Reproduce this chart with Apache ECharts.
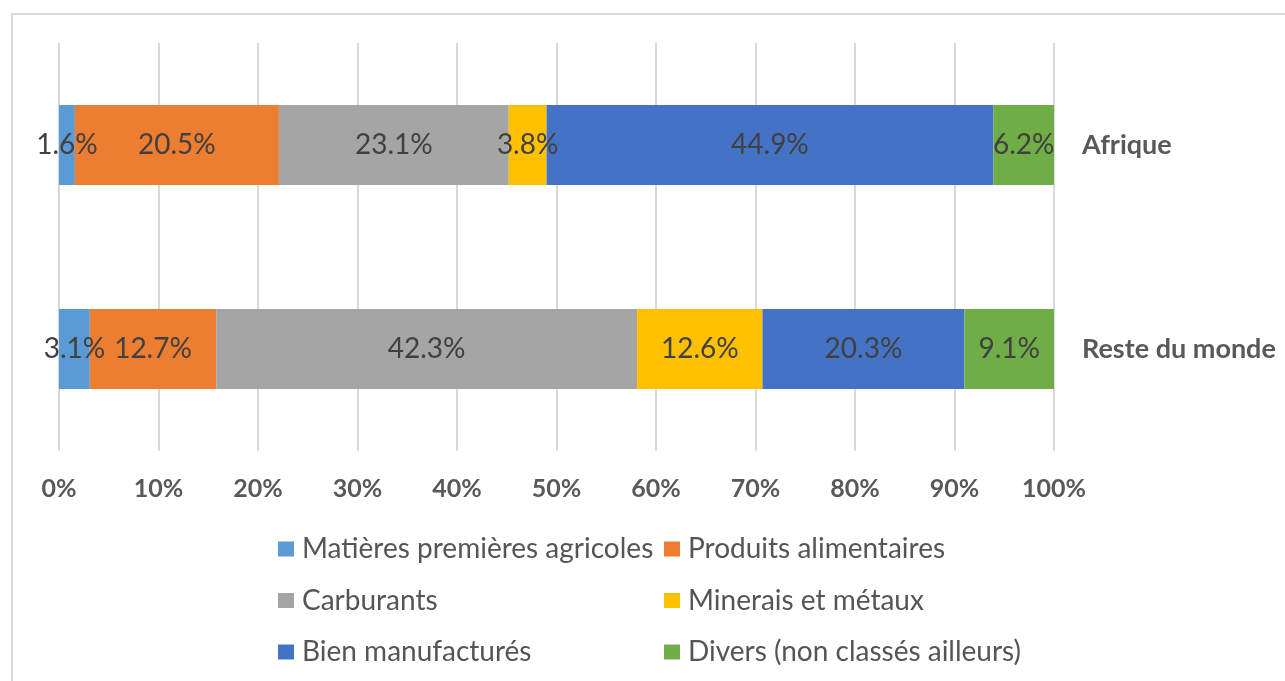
<!DOCTYPE html>
<html>
<head>
<meta charset="utf-8">
<script src="https://cdn.jsdelivr.net/npm/echarts@6/dist/echarts.min.js"></script>
<style>
  html, body { margin: 0; padding: 0; background: #fff; }
  #main { width: 1285px; height: 681px; }
</style>
</head>
<body>
<div id="main"></div>
<script>
// categories (top to bottom)
var regions = ['Afrique', 'Reste du monde'];
var seriesNames = ['Matières premières agricoles', 'Produits alimentaires', 'Carburants',
  'Minerais et métaux', 'Bien manufacturés', 'Divers (non classés ailleurs)'];
var colors = ['#5B9BD5', '#ED7D31', '#A5A5A5', '#FFC000', '#4472C4', '#70AD47'];
// share in %, [Afrique, Reste du monde]
var agricoles = [1.6, 3.1];
var alimentaires = [20.5, 12.7];
var carburants = [23.1, 42.3];
var minerais = [3.8, 12.6];
var manufactures = [44.9, 20.3];
var divers = [6.2, 9.1];
var tickLabels = ['0%', '10%', '20%', '30%', '40%', '50%', '60%', '70%', '80%', '90%', '100%'];

var allValues = [agricoles, alimentaires, carburants, minerais, manufactures, divers];
var font = 'Lato, "Open Sans", sans-serif';

var series = seriesNames.map(function (name, i) {
  return {
    name: name,
    type: 'bar',
    stack: 'total',
    barWidth: 80,
    itemStyle: { color: colors[i] },
    label: {
      show: true,
      position: 'inside',
      color: '#404040',
      fontFamily: font,
      fontSize: 28,
      formatter: function (p) { return p.value.toFixed(1) + '%'; }
    },
    data: allValues[i]
  };
});

var legendText = { color: '#555555', fontFamily: font, fontSize: 28, lineHeight: 30, padding: [0, 0, 0, 3] };

var myChart = echarts.init(document.getElementById('main'));
myChart.setOption({
  animation: false,
  backgroundColor: '#fff',
  graphic: [{
    type: 'rect',
    shape: { x: 12, y: 14, width: 1300, height: 700 },
    style: { fill: 'none', stroke: '#d9d9d9', lineWidth: 2 },
    silent: true
  }],
  grid: { left: 59, right: 231, top: 43, bottom: 230 },
  xAxis: {
    type: 'value',
    min: 0,
    max: 100,
    interval: 10,
    axisLine: { show: false },
    axisTick: { show: false },
    splitLine: { lineStyle: { color: '#d9d9d9', width: 2 } },
    axisLabel: {
      margin: 25,
      color: '#595959',
      fontFamily: font,
      fontWeight: 'bold',
      fontSize: 25,
      formatter: function (v) { return tickLabels[Math.round(v / 10)]; }
    }
  },
  yAxis: {
    type: 'category',
    data: regions,
    position: 'right',
    inverse: true,
    axisLine: { show: false },
    axisTick: { show: false },
    axisLabel: {
      margin: 28,
      color: '#595959',
      fontFamily: font,
      fontWeight: 'bold',
      fontSize: 27
    }
  },
  legend: [{
    data: seriesNames.filter(function (n, i) { return i % 2 === 0; }),
    orient: 'vertical',
    left: 278,
    top: 534,
    padding: 0,
    itemWidth: 16,
    itemHeight: 15,
    itemGap: 21.5,
    icon: 'rect',
    textStyle: legendText
  }, {
    data: seriesNames.filter(function (n, i) { return i % 2 === 1; }),
    orient: 'vertical',
    left: 664,
    top: 534,
    padding: 0,
    itemWidth: 16,
    itemHeight: 15,
    itemGap: 21.5,
    icon: 'rect',
    textStyle: legendText
  }],
  series: series
});
</script>
</body>
</html>
